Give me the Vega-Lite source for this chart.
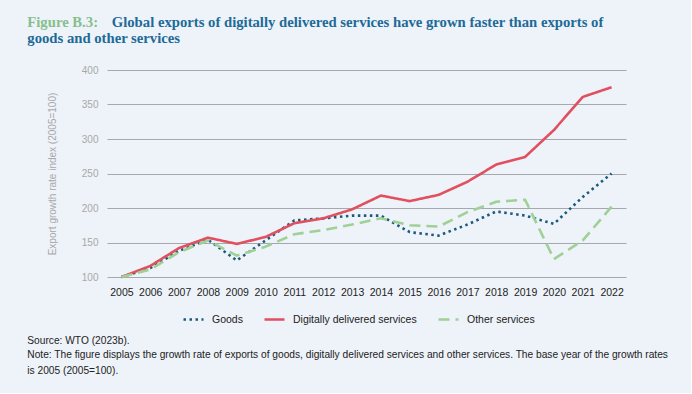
{
  "$schema": "https://vega.github.io/schema/vega-lite/v6.json",
  "background": "#eef3f9",
  "padding": {"left": 27, "top": 15, "right": 22, "bottom": 16},
  "config": {
    "view": {"stroke": null},
    "font": "Liberation Sans",
    "concat": {"spacing": 0}
  },
  "title": {
    "text": "Figure B.3:",
    "anchor": "start",
    "frame": "bounds",
    "font": "Liberation Serif",
    "fontSize": 14.7,
    "fontWeight": "bold",
    "color": "#86bf8e",
    "subtitle": ["\u200b\u00a0\u00a0\u00a0\u00a0\u00a0\u00a0\u00a0\u00a0\u00a0\u00a0\u00a0\u00a0\u00a0\u00a0\u00a0\u00a0\u00a0\u00a0\u00a0\u00a0\u00a0\u00a0\u00a0Global exports of digitally delivered services have grown faster than exports of", "goods and other services"],
    "subtitleFont": "Liberation Serif",
    "subtitleFontSize": 14.7,
    "subtitleFontWeight": "bold",
    "subtitleColor": "#1d6a98",
    "subtitleLineHeight": 16,
    "subtitlePadding": -15,
    "offset": 19
  },
  "resolve": {"legend": {"color": "independent", "strokeDash": "independent"}},
  "vconcat": [
    {
      "width": 519,
      "height": 207,
      "title": {
        "text": "Source: WTO (2023b).",
        "orient": "bottom",
        "anchor": "start",
        "frame": "bounds",
        "dx": -20,
        "fontSize": 10.2,
        "fontWeight": "normal",
        "color": "#222222",
        "subtitle": ["Note: The figure displays the growth rate of exports of goods, digitally delivered services and other services. The base year of the growth rates", "is 2005 (2005=100)."],
        "subtitleFontSize": 10.2,
        "subtitleColor": "#222222",
        "subtitleLineHeight": 16,
        "subtitlePadding": 4,
        "offset": 11
      },
      "data": {
        "values": [
          {"year": "2005", "series": "Goods", "value": 100},
          {"year": "2006", "series": "Goods", "value": 113},
          {"year": "2007", "series": "Goods", "value": 138},
          {"year": "2008", "series": "Goods", "value": 154},
          {"year": "2009", "series": "Goods", "value": 124},
          {"year": "2010", "series": "Goods", "value": 153},
          {"year": "2011", "series": "Goods", "value": 182},
          {"year": "2012", "series": "Goods", "value": 185},
          {"year": "2013", "series": "Goods", "value": 189},
          {"year": "2014", "series": "Goods", "value": 189},
          {"year": "2015", "series": "Goods", "value": 165},
          {"year": "2016", "series": "Goods", "value": 160},
          {"year": "2017", "series": "Goods", "value": 176},
          {"year": "2018", "series": "Goods", "value": 195},
          {"year": "2019", "series": "Goods", "value": 189},
          {"year": "2020", "series": "Goods", "value": 177},
          {"year": "2021", "series": "Goods", "value": 216},
          {"year": "2022", "series": "Goods", "value": 250},
          {"year": "2005", "series": "Digitally delivered services", "value": 100},
          {"year": "2006", "series": "Digitally delivered services", "value": 116},
          {"year": "2007", "series": "Digitally delivered services", "value": 142},
          {"year": "2008", "series": "Digitally delivered services", "value": 157},
          {"year": "2009", "series": "Digitally delivered services", "value": 148},
          {"year": "2010", "series": "Digitally delivered services", "value": 158},
          {"year": "2011", "series": "Digitally delivered services", "value": 178},
          {"year": "2012", "series": "Digitally delivered services", "value": 185},
          {"year": "2013", "series": "Digitally delivered services", "value": 198},
          {"year": "2014", "series": "Digitally delivered services", "value": 218},
          {"year": "2015", "series": "Digitally delivered services", "value": 210},
          {"year": "2016", "series": "Digitally delivered services", "value": 219},
          {"year": "2017", "series": "Digitally delivered services", "value": 238},
          {"year": "2018", "series": "Digitally delivered services", "value": 263},
          {"year": "2019", "series": "Digitally delivered services", "value": 274},
          {"year": "2020", "series": "Digitally delivered services", "value": 313},
          {"year": "2021", "series": "Digitally delivered services", "value": 361},
          {"year": "2022", "series": "Digitally delivered services", "value": 375},
          {"year": "2005", "series": "Other services", "value": 100},
          {"year": "2006", "series": "Other services", "value": 111},
          {"year": "2007", "series": "Other services", "value": 136},
          {"year": "2008", "series": "Other services", "value": 153},
          {"year": "2009", "series": "Other services", "value": 131},
          {"year": "2010", "series": "Other services", "value": 144},
          {"year": "2011", "series": "Other services", "value": 162},
          {"year": "2012", "series": "Other services", "value": 168},
          {"year": "2013", "series": "Other services", "value": 176},
          {"year": "2014", "series": "Other services", "value": 185},
          {"year": "2015", "series": "Other services", "value": 175},
          {"year": "2016", "series": "Other services", "value": 173},
          {"year": "2017", "series": "Other services", "value": 194},
          {"year": "2018", "series": "Other services", "value": 209},
          {"year": "2019", "series": "Other services", "value": 212},
          {"year": "2020", "series": "Other services", "value": 126},
          {"year": "2021", "series": "Other services", "value": 153},
          {"year": "2022", "series": "Other services", "value": 202}
        ]
      },
      "mark": {"type": "line", "strokeWidth": 2.6, "strokeCap": "butt", "strokeJoin": "round"},
      "encoding": {
        "x": {
          "field": "year",
          "type": "ordinal",
          "scale": {"type": "point", "padding": 0.5},
          "axis": {
            "title": null,
            "labelAngle": 0,
            "ticks": false,
            "domain": false,
            "grid": false,
            "labelFontSize": 10.5,
            "labelColor": "#222222",
            "labelPadding": 10
          }
        },
        "y": {
          "field": "value",
          "type": "quantitative",
          "scale": {"domain": [100, 400]},
          "axis": {
            "title": "Export growth rate index (2005=100)",
            "titleFontSize": 10,
            "titleFontWeight": "normal",
            "titleColor": "#a8a8a8",
            "titlePadding": 24,
            "values": [100, 150, 200, 250, 300, 350, 400],
            "ticks": false,
            "domain": false,
            "grid": true,
            "gridColor": "#a6a8ae",
            "gridWidth": 1,
            "labelFontSize": 10,
            "labelColor": "#a8a8a8",
            "labelPadding": 9
          }
        },
        "color": {
          "field": "series",
          "type": "nominal",
          "sort": ["Goods", "Digitally delivered services", "Other services"],
          "scale": {
            "domain": ["Goods", "Digitally delivered services", "Other services"],
            "range": ["#1a5a7c", "#e0505e", "#9fd096"]
          },
          "legend": {
            "title": null,
            "orient": "none",
            "legendX": 75,
            "legendY": 238,
            "direction": "horizontal",
            "symbolType": "stroke",
            "symbolStrokeWidth": 2.6,
            "symbolSize": 400,
            "labelOffset": 7,
            "labelFontSize": 10.5,
            "labelColor": "#222222",
            "columnPadding": 16
          }
        },
        "strokeDash": {
          "field": "series",
          "type": "nominal",
          "sort": ["Goods", "Digitally delivered services", "Other services"],
          "scale": {
            "domain": ["Goods", "Digitally delivered services", "Other services"],
            "range": [[2.5, 3.5], [1, 0], [11, 6]]
          },
          "legend": {
            "title": null,
            "orient": "none",
            "legendX": 75,
            "legendY": 238,
            "direction": "horizontal",
            "symbolType": "stroke",
            "symbolStrokeWidth": 2.6,
            "symbolSize": 400,
            "labelOffset": 7,
            "labelFontSize": 10.5,
            "labelColor": "#222222",
            "columnPadding": 16
          }
        }
      }
    }
  ]
}
